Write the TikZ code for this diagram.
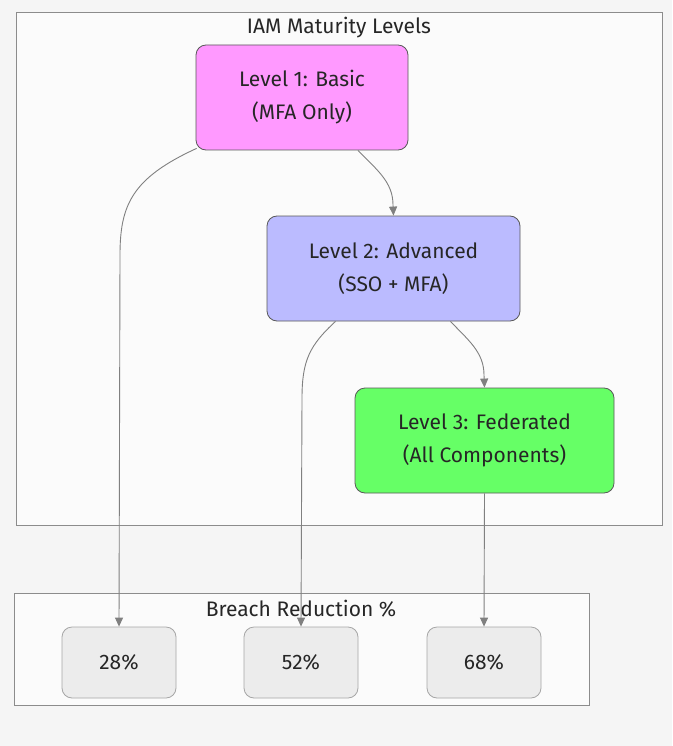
\documentclass[tikz,border=0pt]{standalone}
\usepackage{fontspec}
\setmainfont{Fira Sans}
\usetikzlibrary{arrows.meta}

\definecolor{pageBg}{HTML}{F5F5F5}
\definecolor{clusterBg}{HTML}{FBFBFB}
\definecolor{levelOne}{HTML}{FF99FF}
\definecolor{levelTwo}{HTML}{BBBBFF}
\definecolor{levelThree}{HTML}{66FF66}
\definecolor{pctFill}{HTML}{ECECEC}
\definecolor{edgeGray}{HTML}{808080}

\begin{document}
\begin{tikzpicture}[
        x=1pt,
        y=-1pt,
        >={Triangle[length=9pt,width=8pt]},
        every node/.style={font=\fontsize{21}{33}\selectfont, text=black!85},
        cluster/.style={draw=black!45, fill=clusterBg, line width=0.8pt},
        level/.style={draw=black!65, rounded corners=10pt, line width=0.8pt,
          minimum width=212pt, minimum height=105pt, align=center},
        pct/.style={draw=black!35, fill=pctFill, rounded corners=10pt,
          line width=0.8pt, minimum width=114pt, minimum height=71pt},
        edge/.style={->, draw=edgeGray, line width=0.9pt}
      ]

      % --- 1. 背景とクラスタ枠 ---
      \fill[pageBg] (0,0) rectangle (672,746);
      \useasboundingbox (0,0) rectangle (672,746);
      \draw[cluster] (16,12) rectangle (662,525);
      \node (tMaturity) at (339,28) {IAM Maturity Levels};
      \draw[cluster] (14,593) rectangle (589,705);
      \node (tBreach) at (301,609) {Breach Reduction \%};

      % --- 2. 成熟度レベル ---
      \node[level, fill=levelOne] (lOne) at (302,97.5)
        {Level 1: Basic\\(MFA Only)};
      \node[level, fill=levelTwo, minimum width=253pt] (lTwo) at (393.5,268.5)
        {Level 2: Advanced\\(SSO + MFA)};
      \node[level, fill=levelThree, minimum width=259pt] (lThree) at (484.5,440.5)
        {Level 3: Federated\\(All Components)};

      % --- 3. 侵害削減率 ---
      \node[pct] (pTwentyEight) at (119,662.5) {28\%};
      \node[pct] (pFiftyTwo) at (301,662.5) {52\%};
      \node[pct] (pSixtyEight) at (484,662.5) {68\%};

      % --- 4. 接続線 ---
      \draw[edge] ([xshift=1pt,yshift=2pt]lOne.south west)
        .. controls (132,178) and (120,205) .. (120,255) -- (pTwentyEight.north);
      \draw[edge] ([xshift=56pt]lOne.south)
        .. controls (377,170) and (393,182) .. (393,205) -- (lTwo.north);
      \draw[edge] ([xshift=-58pt]lTwo.south)
        .. controls (310,345) and (302,360) .. (302,398) -- (pFiftyTwo.north);
      \draw[edge] ([xshift=57pt]lTwo.south)
        .. controls (468,340) and (484,352) .. (484,375) -- (lThree.north);
      \draw[edge] (lThree.south) -- (pSixtyEight.north);

    \end{tikzpicture}
\end{document}
